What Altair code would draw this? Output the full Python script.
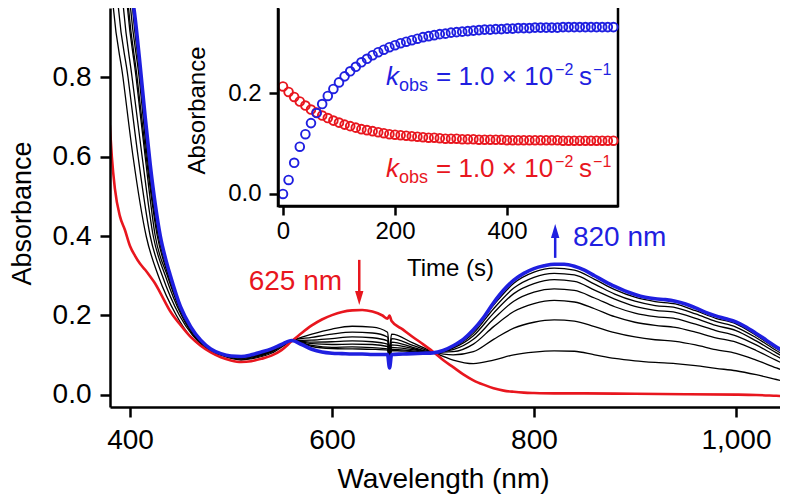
import altair as alt
import pandas as pd

FONT = "Liberation Sans"
RED = "#e8161e"
BLUE = "#1f1fe0"

# ---------------- main spectra (wavelength nm, absorbance) ----------------
RED_WL = [380, 382, 385, 390, 395, 400, 405, 410, 415, 420, 425, 430, 440, 450, 460, 470, 480, 490, 500, 510,
          520, 530, 540, 550, 560, 570, 580, 590, 600, 610, 620, 630, 640, 650, 655, 657, 659, 670, 680, 690,
          700, 710, 720, 730, 740, 750, 760, 770, 780, 790, 800, 820, 850, 900, 950, 1000, 1020, 1040, 1050]
RED_ABS = [0.68, 0.60, 0.52, 0.45, 0.415, 0.375, 0.35, 0.33, 0.315, 0.298, 0.28, 0.257, 0.21, 0.176, 0.146, 0.124, 0.107, 0.095, 0.087, 0.083,
           0.085, 0.091, 0.099, 0.113, 0.135, 0.156, 0.175, 0.190, 0.201, 0.209, 0.213, 0.214, 0.210, 0.200, 0.192, 0.200, 0.186, 0.165, 0.146, 0.128,
           0.109, 0.088, 0.070, 0.052, 0.037, 0.026, 0.017, 0.011, 0.008, 0.006, 0.005, 0.004, 0.004, 0.003, 0.002, 0.001, 0.000, -0.002, -0.003]

BLUE_WL = [398, 403, 405, 410, 415, 420, 425, 430, 435, 440,
           450, 460, 470, 480, 490, 500, 510, 520, 530, 540,
           550, 560, 570, 580, 590, 600, 610, 620, 630, 640,
           650, 655, 657, 659, 670, 680, 690, 700, 710, 720,
           730, 740, 750, 760, 770, 780, 790, 800, 810, 820,
           830, 840, 850, 860, 870, 880, 890, 900, 910, 920,
           930, 940, 950, 960, 970, 980, 990, 1000, 1010, 1020,
           1030, 1040, 1050]
BLUE_ABS = [1.12, 0.99, 0.95, 0.83, 0.70, 0.58, 0.48, 0.40, 0.345, 0.30,
            0.222, 0.172, 0.138, 0.116, 0.104, 0.098, 0.097, 0.101, 0.108, 0.116,
            0.127, 0.137, 0.127, 0.115, 0.108, 0.105, 0.104, 0.103, 0.103, 0.102,
            0.102, 0.102, 0.068, 0.102, 0.103, 0.104, 0.105, 0.106, 0.112, 0.124,
            0.140, 0.164, 0.195, 0.232, 0.264, 0.289, 0.306, 0.318, 0.325, 0.329,
            0.329, 0.324, 0.314, 0.300, 0.286, 0.273, 0.262, 0.253, 0.246, 0.242,
            0.240, 0.236, 0.229, 0.219, 0.208, 0.199, 0.192, 0.184, 0.171, 0.155,
            0.138, 0.121, 0.105]

# intermediate (black) spectra: UV flank read as wavelengths at fixed absorbance levels
BLACK_UV_ABS = [1.10, 0.99, 0.80, 0.60, 0.40, 0.30, 0.20, 0.15, 0.12, 0.10]
BLACK_UV_WL = [
    [380, 383, 393, 403, 416, 428, 446, 459, 472, 490],
    [385, 388, 398, 408, 420, 432, 449, 462, 474, 492],
    [390, 393, 402, 412, 423, 435, 451, 463, 476, 493],
    [394, 397, 406, 415, 425, 437, 452, 464, 477, 494],
    [395, 398, 407, 416, 427, 438, 453, 465, 477, 494],
    [397, 400, 409, 417, 428, 439, 453, 465, 478, 495],
    [399, 402, 410, 418, 429, 440, 454, 466, 478, 495],
]
BLACK_WL = [510, 520, 540, 560, 580, 600, 620, 640, 655, 657, 659, 680, 700,
            720, 740, 760, 780, 800, 820, 840, 860, 880, 900, 920, 940, 960, 980, 1000, 1020, 1040, 1050]
BLACK_ABS = [
    [0.088, 0.091, 0.105, 0.136, 0.153, 0.166, 0.173, 0.171, 0.158, 0.115, 0.153, 0.131, 0.108,
     0.088, 0.079, 0.088, 0.101, 0.108, 0.111, 0.110, 0.101, 0.092, 0.086, 0.082, 0.079, 0.074, 0.067, 0.061, 0.051, 0.039, 0.033],
    [0.090, 0.093, 0.108, 0.137, 0.145, 0.153, 0.158, 0.156, 0.146, 0.108, 0.142, 0.125, 0.108,
     0.101, 0.109, 0.140, 0.168, 0.183, 0.189, 0.186, 0.172, 0.157, 0.146, 0.139, 0.135, 0.126, 0.114, 0.105, 0.088, 0.068, 0.059],
    [0.092, 0.095, 0.109, 0.137, 0.138, 0.142, 0.146, 0.144, 0.136, 0.102, 0.133, 0.120, 0.107,
     0.109, 0.128, 0.172, 0.210, 0.230, 0.238, 0.234, 0.217, 0.197, 0.183, 0.175, 0.170, 0.158, 0.144, 0.133, 0.112, 0.087, 0.075],
    [0.093, 0.096, 0.111, 0.137, 0.133, 0.134, 0.136, 0.134, 0.128, 0.098, 0.126, 0.117, 0.107,
     0.114, 0.140, 0.191, 0.236, 0.259, 0.267, 0.263, 0.244, 0.222, 0.206, 0.197, 0.192, 0.178, 0.162, 0.149, 0.126, 0.098, 0.085],
    [0.094, 0.097, 0.112, 0.137, 0.129, 0.127, 0.128, 0.127, 0.122, 0.094, 0.120, 0.114, 0.107,
     0.118, 0.149, 0.206, 0.255, 0.280, 0.290, 0.286, 0.264, 0.241, 0.223, 0.213, 0.208, 0.193, 0.175, 0.162, 0.136, 0.106, 0.092],
    [0.095, 0.098, 0.113, 0.137, 0.125, 0.120, 0.121, 0.119, 0.116, 0.090, 0.115, 0.111, 0.106,
     0.120, 0.155, 0.217, 0.269, 0.296, 0.306, 0.302, 0.279, 0.254, 0.236, 0.225, 0.220, 0.204, 0.185, 0.171, 0.144, 0.112, 0.097],
    [0.095, 0.099, 0.114, 0.137, 0.122, 0.117, 0.116, 0.115, 0.113, 0.088, 0.112, 0.109, 0.106,
     0.122, 0.160, 0.226, 0.281, 0.309, 0.319, 0.314, 0.291, 0.265, 0.246, 0.235, 0.229, 0.212, 0.193, 0.179, 0.150, 0.117, 0.102],
]

# ---------------- inset kinetics ----------------
TIME = list(range(0, 600, 10))
KIN_BLUE = [0.000, 0.028, 0.062, 0.094, 0.119, 0.141, 0.161, 0.179, 0.195, 0.209,
            0.222, 0.234, 0.244, 0.253, 0.262, 0.269, 0.276, 0.282, 0.287, 0.292,
            0.296, 0.300, 0.303, 0.306, 0.309, 0.312, 0.314, 0.316, 0.318, 0.319,
            0.321, 0.322, 0.323, 0.324, 0.325, 0.326, 0.327, 0.327, 0.328, 0.328,
            0.329, 0.329, 0.330, 0.330, 0.330, 0.331, 0.331, 0.331, 0.331, 0.331,
            0.332, 0.332, 0.332, 0.332, 0.332, 0.332, 0.332, 0.332, 0.332, 0.332]
KIN_RED = [0.214, 0.203, 0.193, 0.184, 0.176, 0.168, 0.162, 0.156, 0.151, 0.146,
           0.142, 0.138, 0.135, 0.132, 0.129, 0.127, 0.125, 0.123, 0.121, 0.119,
           0.118, 0.117, 0.116, 0.115, 0.114, 0.113, 0.112, 0.112, 0.111, 0.110,
           0.110, 0.110, 0.109, 0.109, 0.109, 0.108, 0.108, 0.108, 0.108, 0.108,
           0.107, 0.107, 0.107, 0.107, 0.107, 0.107, 0.107, 0.107, 0.107, 0.107,
           0.106, 0.106, 0.106, 0.106, 0.106, 0.106, 0.106, 0.106, 0.106, 0.106]

# annotations
ARROW_625 = {"wl": 627, "top": 0.34, "head": 0.244}
ARROW_820 = {"wl": 821, "bottom": 0.345, "head": 0.4126}
LABEL_625 = {"wl": 610, "a": 0.264, "txt": "625 nm"}
LABEL_820 = {"wl": 838.6, "a": 0.375, "txt": "820 nm"}
KOBS_T = 184.0
KOBS_A = {BLUE: 0.217, RED: 0.034}
KOBS_PIECES = [("k", 0, 0, 26, "italic"), ("obs", 13, 6, 18, "normal"),
               ("= 1.0 × 10", 50, 0, 26, "normal"), ("−2", 169, -10, 16, "normal"),
               ("s", 193, 0, 26, "normal"), ("−1", 207, -10, 16, "normal")]

W, H = 670, 399

# ---------------- scales / axes ----------------
x_main = alt.Scale(domain=[380.2, 1043.6], nice=False, zero=False)
y_main = alt.Scale(domain=[-0.0302, 0.9736], nice=False, zero=False)
x_in = alt.Scale(domain=[-8.9, 598.2], range=[168, 508], nice=False, zero=False)
y_in = alt.Scale(domain=[-0.0239, 0.370], range=[198, 0], nice=False, zero=False)

common = dict(domainColor="black", tickColor="black", labelColor="black", titleColor="black",
              labelFont=FONT, titleFont=FONT, titleFontWeight="normal", grid=False, zindex=1)
x_axis = alt.Axis(orient="bottom", values=[400, 600, 800, 1000], format=",.0f", title="Wavelength (nm)",
                  labelFontSize=28, titleFontSize=28, domainWidth=2.5, tickWidth=2.5, tickSize=10,
                  labelPadding=9, titleX=333, titleY=72, titleAlign="center", titleBaseline="middle", **common)
y_axis = alt.Axis(orient="left", values=[0, 0.2, 0.4, 0.6, 0.8], format=".1f", title="Absorbance",
                  labelFontSize=28, titleFontSize=27, domainWidth=2.5, tickWidth=2.5, tickSize=10,
                  labelPadding=9, titleX=-88, titleY=205, titleAngle=-90, titleAlign="center",
                  titleBaseline="middle", **common)
xi_axis = alt.Axis(orient="bottom", offset=-201, values=[0, 200, 400], title="Time (s)",
                   labelFontSize=24, titleFontSize=24, domainWidth=2.5, tickWidth=2.5, tickSize=9,
                   labelPadding=4, titleX=340, titleY=62, titleAlign="center", titleBaseline="middle", **common)
yi_axis = alt.Axis(orient="left", offset=-168, values=[0, 0.2], format=".1f", title="Absorbance",
                   labelFontSize=24, titleFontSize=24, domainWidth=2.5, tickWidth=2.5, tickSize=9,
                   labelPadding=8, titleX=-81, titleY=102, titleAngle=-90, titleAlign="center",
                   titleBaseline="middle", **common)

XM = alt.X("wl:Q", scale=x_main, axis=x_axis)
YM = alt.Y("a:Q", scale=y_main, axis=y_axis)
XI = alt.X("t:Q", scale=x_in, axis=xi_axis)
YI = alt.Y("ai:Q", scale=y_in, axis=yi_axis)

# ---------------- data tables ----------------
red_df = pd.DataFrame({"wl": RED_WL, "a": RED_ABS})
blue_df = pd.DataFrame({"wl": BLUE_WL, "a": BLUE_ABS})
black_df = pd.concat([
    pd.DataFrame({"wl": BLACK_UV_WL[i] + BLACK_WL, "a": BLACK_UV_ABS + BLACK_ABS[i], "curve": i})
    for i in range(len(BLACK_ABS))
])

black = alt.Chart(black_df).mark_line(color="black", strokeWidth=1.3, clip=True, interpolate="monotone").encode(
    x=XM, y=YM, detail="curve:N")
red = alt.Chart(red_df).mark_line(color=RED, strokeWidth=2.6, clip=True, interpolate="monotone").encode(x=XM, y=YM)
blue = alt.Chart(blue_df).mark_line(color=BLUE, strokeWidth=3.6, clip=True, interpolate="monotone").encode(x=XM, y=YM)

arrow_r = alt.Chart(pd.DataFrame({"wl": [ARROW_625["wl"]], "a": [ARROW_625["top"]], "a2": [ARROW_625["head"]]})).mark_rule(
    color=RED, strokeWidth=2.5).encode(x=XM, y=YM, y2="a2:Q")
head_r = alt.Chart(pd.DataFrame({"wl": [ARROW_625["wl"]], "a": [ARROW_625["head"]]})).mark_point(
    shape="M-0.6,-1L0.6,-1L0,1Z", filled=True, fill=RED, strokeWidth=0, size=196, opacity=1).encode(x=XM, y=YM)
arrow_b = alt.Chart(pd.DataFrame({"wl": [ARROW_820["wl"]], "a": [ARROW_820["bottom"]], "a2": [ARROW_820["head"]]})).mark_rule(
    color=BLUE, strokeWidth=2.5).encode(x=XM, y=YM, y2="a2:Q")
head_b = alt.Chart(pd.DataFrame({"wl": [ARROW_820["wl"]], "a": [ARROW_820["head"]]})).mark_point(
    shape="M-0.6,1L0.6,1L0,-1Z", filled=True, fill=BLUE, strokeWidth=0, size=196, opacity=1).encode(x=XM, y=YM)

lab_r = alt.Chart(pd.DataFrame([LABEL_625])).mark_text(
    font=FONT, fontSize=28, color=RED, align="right", baseline="alphabetic").encode(x=XM, y=YM, text="txt:N")
lab_b = alt.Chart(pd.DataFrame([LABEL_820])).mark_text(
    font=FONT, fontSize=28, color=BLUE, align="left", baseline="alphabetic").encode(x=XM, y=YM, text="txt:N")

main = alt.layer(black, red, blue, arrow_r, head_r, arrow_b, head_b, lab_r, lab_b)

# ---------------- inset ----------------
frame = alt.Chart(pd.DataFrame({"t": [-8.9], "t2": [598.2], "ai": [-0.0239], "ai2": [0.45]})).mark_rect(
    fill="white", stroke="black", strokeWidth=2.5, clip=True).encode(x=XI, x2="t2:Q", y=YI, y2="ai2:Q")
kin_r = alt.Chart(pd.DataFrame({"t": TIME, "ai": KIN_RED})).mark_point(
    shape="circle", filled=False, color=RED, size=75, strokeWidth=1.9, opacity=1).encode(x=XI, y=YI)
kin_b = alt.Chart(pd.DataFrame({"t": TIME, "ai": KIN_BLUE})).mark_point(
    shape="circle", filled=False, color=BLUE, size=75, strokeWidth=1.9, opacity=1).encode(x=XI, y=YI)

kobs_layers = []
for col, a0 in KOBS_A.items():
    for txt, dx, dy, fs, style in KOBS_PIECES:
        kobs_layers.append(
            alt.Chart(pd.DataFrame({"t": [KOBS_T], "ai": [a0], "txt": [txt]})).mark_text(
                font=FONT, fontSize=fs, fontStyle=style, color=col, align="left", baseline="alphabetic",
                dx=dx, dy=dy).encode(x=XI, y=YI, text="txt:N"))

inset = alt.layer(frame, kin_r, kin_b, *kobs_layers)

chart = alt.layer(main, inset).resolve_scale(x="independent", y="independent").properties(
    width=W, height=H,
    padding={"left": 102, "top": 0, "right": 0, "bottom": 87},
    autosize=alt.AutoSizeParams(type="none"),
    background="white",
).configure_view(stroke=None)

chart.save("out.html", embed_options={"renderer": "svg", "actions": False})
